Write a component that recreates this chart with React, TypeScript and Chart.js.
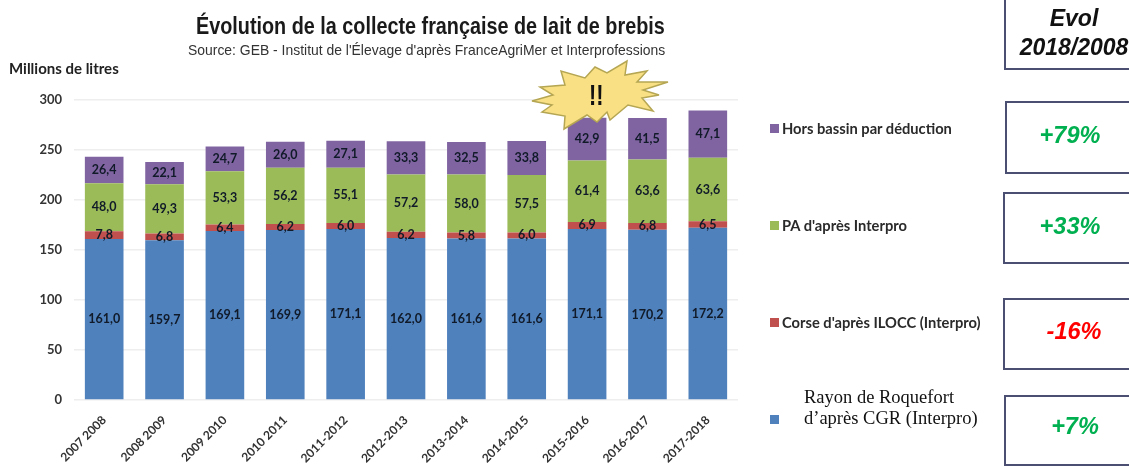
import React, { useEffect, useRef } from "react";
import { Chart, registerables } from "chart.js";

Chart.register(...registerables);

const categories = ["2007 2008", "2008 2009", "2009 2010", "2010 2011", "2011-2012", "2012-2013", "2013-2014", "2014-2015", "2015-2016", "2016-2017", "2017-2018"];
const roquefort = [161.0, 159.7, 169.1, 169.9, 171.1, 162.0, 161.6, 161.6, 171.1, 170.2, 172.2];
const corse = [7.8, 6.8, 6.4, 6.2, 6.0, 6.2, 5.8, 6.0, 6.9, 6.8, 6.5];
const pa = [48.0, 49.3, 53.3, 56.2, 55.1, 57.2, 58.0, 57.5, 61.4, 63.6, 63.6];
const horsBassin = [26.4, 22.1, 24.7, 26.0, 27.1, 33.3, 32.5, 33.8, 42.9, 41.5, 47.1];

const seriesNames = ["Rayon de Roquefort d’après CGR (Interpro)", "Corse d'après ILOCC (Interpro)", "PA d'après Interpro", "Hors bassin par déduction"];
const seriesColors = ["#4f81bd", "#c0504d", "#9bbb59", "#8064a2"];
const titleText = "Évolution de la collecte française de lait de brebis";
const sourceText = "Source: GEB - Institut de l'Élevage d'après FranceAgriMer et Interprofessions";

const starPoints = "532,101 553,95 540,87 565,85 561,71 585,78 595,67 607,73 627,61 625,75 647,71 637,82 668,82 643,90 659,95 642,98 653,111 628,105 610,120 607,112 597,122 587,115 564,129 565,116 542,112 552,105";
const soft = "blur(0.5px)";

const dataLabels = {
  id: "dataLabels",
  afterDatasetsDraw(chart: any) {
    const { ctx } = chart;
    ctx.save();
    ctx.font = "bold 12.5px Lato";
    ctx.fillStyle = "#101a28";
    ctx.textAlign = "center";
    ctx.textBaseline = "middle";
    chart.data.datasets.forEach((ds: any, i: number) => {
      chart.getDatasetMeta(i).data.forEach((bar: any, j: number) => {
        const c = bar.getCenterPoint();
        ctx.fillText(ds.data[j].toFixed(1).replace(".", ","), c.x, c.y);
      });
    });
    ctx.restore();
  },
};

const abs = (left: number, top: number, extra: React.CSSProperties = {}): React.CSSProperties => ({
  position: "absolute",
  left,
  top,
  whiteSpace: "nowrap",
  ...extra,
});

function Box({ top, left, height, text, color, cx, textTop }: { top: number; left: number; height: number; text: string; color: string; cx: number; textTop: number }) {
  return (
    <>
      <div style={abs(left, top, { width: 1140 - left, height: height, border: "2px solid #4b5072", boxSizing: "border-box", filter: soft })} />
      <div style={abs(cx - 60, textTop, { width: 120, textAlign: "center", font: "italic bold 23.5px 'Liberation Sans'", color, lineHeight: "28px", filter: soft })}>{text}</div>
    </>
  );
}

function LegendItem({ top, color, text }: { top: number; color: string; text: string }) {
  return (
    <>
      <div style={abs(770, top + 4, { width: 9, height: 9, background: color, filter: soft })} />
      <div style={abs(782, top, { font: "bold 14.7px Lato", color: "#2a2a2a", lineHeight: "17px", filter: soft })}>{text}</div>
    </>
  );
}

export default function App() {
  const ref = useRef<HTMLCanvasElement>(null);
  useEffect(() => {
    const chart = new Chart(ref.current!, {
      type: "bar",
      data: {
        labels: categories,
        datasets: [roquefort, corse, pa, horsBassin].map((data, i) => ({
          label: seriesNames[i],
          data,
          backgroundColor: seriesColors[i],
          barPercentage: 0.64,
          categoryPercentage: 1,
        })),
      },
      options: {
        responsive: false,
        animation: false,
        layout: { padding: { top: 100, right: 391, bottom: 0, left: 0 } },
        plugins: { legend: { display: false }, title: { display: false }, tooltip: { enabled: false } },
        scales: {
          x: {
            stacked: true,
            afterFit: (s: any) => { s.height = 66; },
            grid: { display: false },
            border: { display: false },
            ticks: { font: { family: "Lato", weight: "bold", size: 12 }, color: "#333333", maxRotation: 45, minRotation: 45, autoSkip: false, padding: 5 },
          },
          y: {
            stacked: true,
            min: 0,
            max: 300,
            afterFit: (s: any) => { s.width = 74; },
            grid: { color: "#eeeeee", lineWidth: 1.5, drawTicks: false },
            border: { display: false },
            ticks: { stepSize: 50, font: { family: "Lato", weight: "bold", size: 13 }, color: "#333333", padding: 12 },
          },
        },
      } as any,
      plugins: [dataLabels],
    });
    return () => chart.destroy();
  }, []);

  return (
    <div style={{ position: "fixed", left: 0, top: 0, width: 1129, height: 466, overflow: "hidden", background: "#fff" }}>
      <canvas ref={ref} width={1129} height={466} style={{ position: "absolute", left: 0, top: 0, filter: soft }} />
      <div style={abs(196, 11, { font: "bold 24px 'Liberation Sans'", color: "#1a1a1a", lineHeight: "30px", transformOrigin: "0 0", transform: "scaleX(0.825)", filter: soft })}>{titleText}</div>
      <div style={abs(188, 41, { font: "14.5px 'Liberation Sans'", color: "#333", lineHeight: "18px", transformOrigin: "0 0", transform: "scaleX(0.96)", filter: soft })}>{sourceText}</div>
      <div style={abs(9, 59, { font: "bold 15px Lato", color: "#222", lineHeight: "18px", filter: soft })}>Millions de litres</div>
      <svg width={1129} height={466} style={{ position: "absolute", left: 0, top: 0, filter: soft }}>
        <polygon points={starPoints} fill="#f9e084" stroke="#b5a653" strokeWidth={1.5} />
      </svg>
      <div style={abs(589, 79, { font: "bold 29px 'Liberation Sans'", color: "#111", lineHeight: "32px", transformOrigin: "0 0", transform: "scaleX(0.75)", filter: soft })}>!!</div>

      <LegendItem top={120} color={seriesColors[3]} text={seriesNames[3]} />
      <LegendItem top={217} color={seriesColors[2]} text={seriesNames[2]} />
      <LegendItem top={314} color={seriesColors[1]} text={seriesNames[1]} />
      <div style={abs(770, 415, { width: 9, height: 9, background: seriesColors[0], filter: soft })} />
      <div style={abs(804, 387, { font: "18.5px 'Liberation Serif'", color: "#111", lineHeight: "21px" })}>Rayon de Roquefort<br />d’après CGR (Interpro)</div>

      <div style={abs(1004, -4, { width: 140, height: 74, border: "2px solid #4b5072", boxSizing: "border-box", filter: soft })} />
      <div style={abs(1014, 4, { width: 120, textAlign: "center", font: "italic bold 23px 'Liberation Sans'", color: "#111", lineHeight: "29px", filter: soft })}>Evol<br />2018/2008</div>
      <Box top={101} left={1005} height={73} text="+79%" color="#00b050" cx={1070} textTop={121} />
      <Box top={192} left={1003} height={72} text="+33%" color="#00b050" cx={1070} textTop={212} />
      <Box top={298} left={1003} height={72} text="-16%" color="#ff0000" cx={1074} textTop={317} />
      <Box top={395} left={1004} height={71} text="+7%" color="#00b050" cx={1075} textTop={412} />
    </div>
  );
}
